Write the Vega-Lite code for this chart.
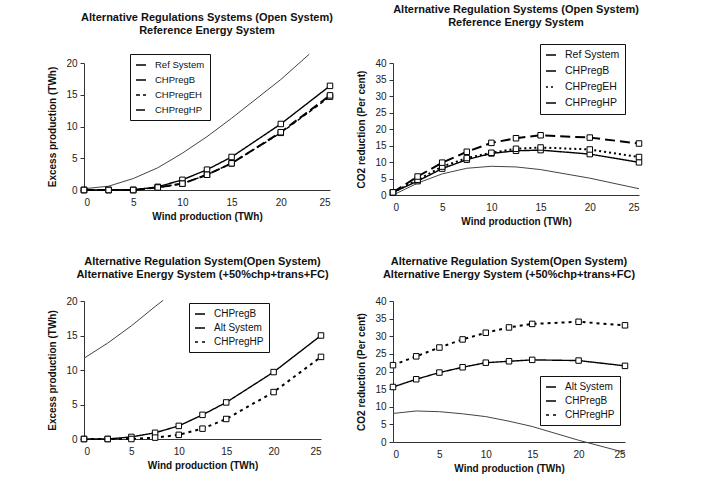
{
  "$schema": "https://vega.github.io/schema/vega-lite/v6.json",
  "padding": {"left": 47, "top": 3, "right": 5, "bottom": 2},
  "background": "white",
  "config": {
    "view": {"stroke": null},
    "font": "Liberation Sans",
    "title": {"font": "Liberation Sans", "fontSize": 11, "fontWeight": "bold", "color": "#111", "lineHeight": 13, "anchor": "middle", "offset": 16},
    "axis": {"grid": false, "domainColor": "#333", "tickColor": "#333", "labelFont": "Liberation Sans", "labelFontSize": 10, "labelColor": "#222", "titleFont": "Liberation Sans", "titleFontSize": 10, "titleFontWeight": "bold", "titleColor": "#111"},
    "axisX": {"ticks": false, "labelPadding": 7, "titlePadding": 4, "values": [0, 5, 10, 15, 20, 25]},
    "axisY": {"tickSize": 4, "labelPadding": 3, "titlePadding": 8},
    "legend": {"orient": "none", "title": null, "fillColor": "white", "strokeColor": "#111", "padding": 5, "labelFont": "Liberation Sans", "labelColor": "#111", "symbolSize": 100, "labelOffset": 8, "rowPadding": 3}
  },
  "resolve": {"scale": {"strokeDash": "independent"}, "legend": {"strokeDash": "independent"}},
  "datasets": {
    "p1": [
      {"x": 0, "y": 0.2, "s": "Ref System"}, {"x": 2.5, "y": 0.6, "s": "Ref System"}, {"x": 5, "y": 1.8, "s": "Ref System"}, {"x": 7.5, "y": 3.5, "s": "Ref System"}, {"x": 10, "y": 5.8, "s": "Ref System"}, {"x": 12.5, "y": 8.4, "s": "Ref System"}, {"x": 15, "y": 11.3, "s": "Ref System"}, {"x": 20, "y": 17.4, "s": "Ref System"}, {"x": 22.9, "y": 21.4, "s": "Ref System"},
      {"x": 0, "y": 0, "s": "CHPregB"}, {"x": 2.5, "y": 0, "s": "CHPregB"}, {"x": 5, "y": 0, "s": "CHPregB"}, {"x": 7.5, "y": 0.5, "s": "CHPregB"}, {"x": 10, "y": 1.6, "s": "CHPregB"}, {"x": 12.5, "y": 3.2, "s": "CHPregB"}, {"x": 15, "y": 5.2, "s": "CHPregB"}, {"x": 20, "y": 10.4, "s": "CHPregB"}, {"x": 25, "y": 16.4, "s": "CHPregB"},
      {"x": 0, "y": 0, "s": "CHPregEH"}, {"x": 2.5, "y": 0, "s": "CHPregEH"}, {"x": 5, "y": 0, "s": "CHPregEH"}, {"x": 7.5, "y": 0.4, "s": "CHPregEH"}, {"x": 10, "y": 1.0, "s": "CHPregEH"}, {"x": 12.5, "y": 2.4, "s": "CHPregEH"}, {"x": 15, "y": 4.2, "s": "CHPregEH"}, {"x": 20, "y": 9.0, "s": "CHPregEH"}, {"x": 25, "y": 14.7, "s": "CHPregEH"},
      {"x": 0, "y": 0, "s": "CHPregHP"}, {"x": 2.5, "y": 0, "s": "CHPregHP"}, {"x": 5, "y": 0, "s": "CHPregHP"}, {"x": 7.5, "y": 0.4, "s": "CHPregHP"}, {"x": 10, "y": 1.0, "s": "CHPregHP"}, {"x": 12.5, "y": 2.4, "s": "CHPregHP"}, {"x": 15, "y": 4.2, "s": "CHPregHP"}, {"x": 20, "y": 9.1, "s": "CHPregHP"}, {"x": 25, "y": 14.9, "s": "CHPregHP"}
    ],
    "p2": [
      {"x": 0, "y": 0, "s": "Ref System"}, {"x": 2.5, "y": 3.6, "s": "Ref System"}, {"x": 5, "y": 6.4, "s": "Ref System"}, {"x": 7.5, "y": 8.1, "s": "Ref System"}, {"x": 10, "y": 8.7, "s": "Ref System"}, {"x": 12.5, "y": 8.5, "s": "Ref System"}, {"x": 15, "y": 7.7, "s": "Ref System"}, {"x": 20, "y": 5.1, "s": "Ref System"}, {"x": 25, "y": 1.9, "s": "Ref System"},
      {"x": 0, "y": 0.8, "s": "CHPregB"}, {"x": 2.5, "y": 4.2, "s": "CHPregB"}, {"x": 5, "y": 8.0, "s": "CHPregB"}, {"x": 7.5, "y": 10.7, "s": "CHPregB"}, {"x": 10, "y": 12.6, "s": "CHPregB"}, {"x": 12.5, "y": 13.4, "s": "CHPregB"}, {"x": 15, "y": 13.6, "s": "CHPregB"}, {"x": 20, "y": 12.4, "s": "CHPregB"}, {"x": 25, "y": 9.9, "s": "CHPregB"},
      {"x": 0, "y": 0.8, "s": "CHPregEH"}, {"x": 2.5, "y": 4.6, "s": "CHPregEH"}, {"x": 5, "y": 8.6, "s": "CHPregEH"}, {"x": 7.5, "y": 11.2, "s": "CHPregEH"}, {"x": 10, "y": 12.8, "s": "CHPregEH"}, {"x": 12.5, "y": 14.0, "s": "CHPregEH"}, {"x": 15, "y": 14.4, "s": "CHPregEH"}, {"x": 20, "y": 13.8, "s": "CHPregEH"}, {"x": 25, "y": 11.5, "s": "CHPregEH"},
      {"x": 0, "y": 0.8, "s": "CHPregHP"}, {"x": 2.5, "y": 5.6, "s": "CHPregHP"}, {"x": 5, "y": 9.8, "s": "CHPregHP"}, {"x": 7.5, "y": 13.1, "s": "CHPregHP"}, {"x": 10, "y": 15.8, "s": "CHPregHP"}, {"x": 12.5, "y": 17.2, "s": "CHPregHP"}, {"x": 15, "y": 18.1, "s": "CHPregHP"}, {"x": 20, "y": 17.4, "s": "CHPregHP"}, {"x": 25, "y": 15.6, "s": "CHPregHP"}
    ],
    "p3": [
      {"x": 0, "y": 11.7, "s": "Alt System"}, {"x": 2.5, "y": 13.9, "s": "Alt System"}, {"x": 5, "y": 16.4, "s": "Alt System"}, {"x": 7.5, "y": 19.2, "s": "Alt System"}, {"x": 8.35, "y": 20.1, "s": "Alt System"},
      {"x": 0, "y": 0, "s": "CHPregB"}, {"x": 2.5, "y": 0, "s": "CHPregB"}, {"x": 5, "y": 0.3, "s": "CHPregB"}, {"x": 7.5, "y": 0.9, "s": "CHPregB"}, {"x": 10, "y": 1.9, "s": "CHPregB"}, {"x": 12.5, "y": 3.5, "s": "CHPregB"}, {"x": 15, "y": 5.3, "s": "CHPregB"}, {"x": 20, "y": 9.7, "s": "CHPregB"}, {"x": 25, "y": 15.0, "s": "CHPregB"},
      {"x": 0, "y": 0, "s": "CHPregHP"}, {"x": 2.5, "y": 0, "s": "CHPregHP"}, {"x": 5, "y": 0, "s": "CHPregHP"}, {"x": 7.5, "y": 0.2, "s": "CHPregHP"}, {"x": 10, "y": 0.6, "s": "CHPregHP"}, {"x": 12.5, "y": 1.5, "s": "CHPregHP"}, {"x": 15, "y": 2.9, "s": "CHPregHP"}, {"x": 20, "y": 6.8, "s": "CHPregHP"}, {"x": 25, "y": 11.9, "s": "CHPregHP"}
    ],
    "p4": [
      {"x": 0, "y": 8.1, "s": "Alt System"}, {"x": 2.5, "y": 8.8, "s": "Alt System"}, {"x": 5, "y": 8.6, "s": "Alt System"}, {"x": 7.5, "y": 8.0, "s": "Alt System"}, {"x": 10, "y": 7.2, "s": "Alt System"}, {"x": 12.5, "y": 5.9, "s": "Alt System"}, {"x": 15, "y": 4.4, "s": "Alt System"}, {"x": 20, "y": 0.5, "s": "Alt System"}, {"x": 25, "y": -3, "s": "Alt System"},
      {"x": 0, "y": 15.6, "s": "CHPregB"}, {"x": 2.5, "y": 17.8, "s": "CHPregB"}, {"x": 5, "y": 19.7, "s": "CHPregB"}, {"x": 7.5, "y": 21.2, "s": "CHPregB"}, {"x": 10, "y": 22.5, "s": "CHPregB"}, {"x": 12.5, "y": 22.9, "s": "CHPregB"}, {"x": 15, "y": 23.3, "s": "CHPregB"}, {"x": 20, "y": 23.1, "s": "CHPregB"}, {"x": 25, "y": 21.6, "s": "CHPregB"},
      {"x": 0, "y": 21.8, "s": "CHPregHP"}, {"x": 2.5, "y": 24.3, "s": "CHPregHP"}, {"x": 5, "y": 26.8, "s": "CHPregHP"}, {"x": 7.5, "y": 29.1, "s": "CHPregHP"}, {"x": 10, "y": 31.0, "s": "CHPregHP"}, {"x": 12.5, "y": 32.5, "s": "CHPregHP"}, {"x": 15, "y": 33.5, "s": "CHPregHP"}, {"x": 20, "y": 34.1, "s": "CHPregHP"}, {"x": 25, "y": 33.1, "s": "CHPregHP"}
    ]
  },
  "vconcat": [
    {
      "resolve": {"scale": {"strokeDash": "independent"}, "legend": {"strokeDash": "independent"}},
      "hconcat": [
        {
          "width": 246, "height": 127,
          "title": {"text": ["Alternative Regulations Systems (Open System)", "Reference Energy System"]},
          "data": {"name": "p1"},
          "encoding": {
            "x": {"field": "x", "type": "quantitative", "scale": {"domain": [0, 25]}, "axis": {"title": "Wind production (TWh)"}},
            "y": {"field": "y", "type": "quantitative", "scale": {"domain": [0, 20]}, "axis": {"title": "Excess production (TWh)", "values": [0, 5, 10, 15, 20]}}
          },
          "layer": [
            {"transform": [{"filter": "datum.s === 'Ref System'"}], "mark": {"type": "line", "clip": false, "color": "#444", "strokeWidth": 1}, "encoding": {}},
            {"transform": [{"filter": "datum.s === 'CHPregB'"}], "mark": {"type": "line", "clip": false, "color": "black", "strokeWidth": 1.4},
             "encoding": {"strokeDash": {"field": "s", "type": "nominal",
               "scale": {"domain": ["Ref System", "CHPregB", "CHPregEH", "CHPregHP"], "range": [[1, 0], [1, 0], [4, 3], [9, 4]]},
               "legend": {"legendX": 46, "legendY": -9, "labelFontSize": 9.5, "rowPadding": 4}}}},
            {"transform": [{"filter": "datum.s === 'CHPregEH'"}], "mark": {"type": "line", "clip": false, "color": "black", "strokeWidth": 1.4, "strokeDash": [4, 3]}, "encoding": {}},
            {"transform": [{"filter": "datum.s === 'CHPregHP'"}], "mark": {"type": "line", "clip": false, "color": "black", "strokeWidth": 2, "strokeDash": [9, 4]}, "encoding": {}},
            {"transform": [{"filter": "datum.s !== 'Ref System'"}], "mark": {"type": "point", "shape": "square", "filled": true, "fill": "white", "stroke": "black", "strokeWidth": 1, "size": 30, "opacity": 1}, "encoding": {}}
          ]
        },
        {
          "width": 246, "height": 132,
          "title": {"text": ["Alternative Regulation Systems (Open System)", "Reference Energy System"]},
          "data": {"name": "p2"},
          "encoding": {
            "x": {"field": "x", "type": "quantitative", "scale": {"domain": [0, 25]}, "axis": {"title": "Wind production (TWh)"}},
            "y": {"field": "y", "type": "quantitative", "scale": {"domain": [0, 40]}, "axis": {"title": "CO2 reduction (Per cent)", "values": [0, 5, 10, 15, 20, 25, 30, 35, 40]}}
          },
          "layer": [
            {"transform": [{"filter": "datum.s === 'Ref System'"}], "mark": {"type": "line", "clip": false, "color": "#444", "strokeWidth": 1}, "encoding": {}},
            {"transform": [{"filter": "datum.s === 'CHPregB'"}], "mark": {"type": "line", "clip": false, "color": "black", "strokeWidth": 1.4},
             "encoding": {"strokeDash": {"field": "s", "type": "nominal",
               "scale": {"domain": ["Ref System", "CHPregB", "CHPregEH", "CHPregHP"], "range": [[1, 0], [1, 0], [2, 3], [10, 5]]},
               "legend": {"legendX": 147, "legendY": -19, "labelFontSize": 10.5, "rowPadding": 4}}}},
            {"transform": [{"filter": "datum.s === 'CHPregEH'"}], "mark": {"type": "line", "clip": false, "color": "black", "strokeWidth": 2, "strokeDash": [2, 3]}, "encoding": {}},
            {"transform": [{"filter": "datum.s === 'CHPregHP'"}], "mark": {"type": "line", "clip": false, "color": "black", "strokeWidth": 2, "strokeDash": [10, 5]}, "encoding": {}},
            {"transform": [{"filter": "datum.s !== 'Ref System'"}], "mark": {"type": "point", "shape": "square", "filled": true, "fill": "white", "stroke": "black", "strokeWidth": 1, "size": 30, "opacity": 1}, "encoding": {}}
          ]
        }
      ],
      "spacing": 21
    },
    {
      "resolve": {"scale": {"strokeDash": "independent"}, "legend": {"strokeDash": "independent"}},
      "hconcat": [
        {
          "width": 237, "height": 138,
          "title": {"text": ["Alternative Regulation System(Open System)", "Alternative Energy System (+50%chp+trans+FC)"]},
          "data": {"name": "p3"},
          "encoding": {
            "x": {"field": "x", "type": "quantitative", "scale": {"domain": [0, 25]}, "axis": {"title": "Wind production (TWh)"}},
            "y": {"field": "y", "type": "quantitative", "scale": {"domain": [0, 20]}, "axis": {"title": "Excess production (TWh)", "values": [0, 5, 10, 15, 20]}}
          },
          "layer": [
            {"transform": [{"filter": "datum.s === 'Alt System'"}], "mark": {"type": "line", "clip": false, "color": "#444", "strokeWidth": 1}, "encoding": {}},
            {"transform": [{"filter": "datum.s === 'CHPregB'"}], "mark": {"type": "line", "clip": false, "color": "black", "strokeWidth": 1.4},
             "encoding": {"strokeDash": {"field": "s", "type": "nominal",
               "scale": {"domain": ["CHPregB", "Alt System", "CHPregHP"], "range": [[1, 0], [1, 0], [3, 4]]},
               "legend": {"legendX": 105, "legendY": 2, "labelFontSize": 10, "rowPadding": 3}}}},
            {"transform": [{"filter": "datum.s === 'CHPregHP'"}], "mark": {"type": "line", "clip": false, "color": "black", "strokeWidth": 2, "strokeDash": [3, 4]}, "encoding": {}},
            {"transform": [{"filter": "datum.s !== 'Alt System'"}], "mark": {"type": "point", "shape": "square", "filled": true, "fill": "white", "stroke": "black", "strokeWidth": 1, "size": 30, "opacity": 1}, "encoding": {}}
          ]
        },
        {
          "width": 232, "height": 141,
          "title": {"text": ["Alternative Regulation System(Open System)", "Alternative Energy System (+50%chp+trans+FC)"]},
          "data": {"name": "p4"},
          "encoding": {
            "x": {"field": "x", "type": "quantitative", "scale": {"domain": [0, 25]}, "axis": {"title": "Wind production (TWh)"}},
            "y": {"field": "y", "type": "quantitative", "scale": {"domain": [0, 40]}, "axis": {"title": "CO2 reduction (Per cent)", "values": [0, 5, 10, 15, 20, 25, 30, 35, 40]}}
          },
          "layer": [
            {"transform": [{"filter": "datum.s === 'Alt System'"}], "mark": {"type": "line", "clip": false, "color": "#444", "strokeWidth": 1}, "encoding": {}},
            {"transform": [{"filter": "datum.s === 'CHPregB'"}], "mark": {"type": "line", "clip": false, "color": "black", "strokeWidth": 1.4},
             "encoding": {"strokeDash": {"field": "s", "type": "nominal",
               "scale": {"domain": ["Alt System", "CHPregB", "CHPregHP"], "range": [[1, 0], [1, 0], [3, 4]]},
               "legend": {"legendX": 147, "legendY": 75, "labelFontSize": 10, "rowPadding": 3}}}},
            {"transform": [{"filter": "datum.s === 'CHPregHP'"}], "mark": {"type": "line", "clip": false, "color": "black", "strokeWidth": 2, "strokeDash": [3, 4]}, "encoding": {}},
            {"transform": [{"filter": "datum.s !== 'Alt System'"}], "mark": {"type": "point", "shape": "square", "filled": true, "fill": "white", "stroke": "black", "strokeWidth": 1, "size": 30, "opacity": 1}, "encoding": {}}
          ]
        }
      ],
      "spacing": 27
    }
  ],
  "spacing": 30
}
